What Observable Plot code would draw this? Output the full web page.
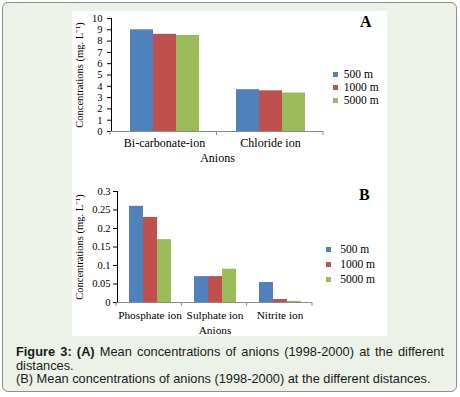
<!DOCTYPE html>
<html><head><meta charset="utf-8">
<script src="https://cdn.jsdelivr.net/npm/d3@7"></script>
<script src="https://cdn.jsdelivr.net/npm/@observablehq/plot@0.6"></script>
<style>
html,body{margin:0;padding:0;background:#fff;}
body{width:460px;height:397px;overflow:hidden;position:relative;font-family:"Liberation Serif",serif;}
#box{position:absolute;left:2px;top:2px;width:455px;height:390px;box-sizing:border-box;border:1.5px solid #8e8e8e;border-radius:6px;background:#edf2e8;}
#panel{position:absolute;left:72px;top:11px;width:315px;height:325px;background:#fff;}
.chart{position:absolute;left:72px;}
#chartA{top:11px;}
#chartB{top:172px;}
#chartA [aria-label^="fx-axis"] text{font-size:12px;}
#chartB [aria-label^="fx-axis"] text{font-size:11.3px;}
.tag{position:absolute;font-family:"Liberation Serif",serif;font-weight:bold;font-size:16px;color:#000;}
.leg{position:absolute;}
.leg, .leg *{font-family:"Liberation Serif",serif !important;font-size:11.5px !important;color:#000 !important;}
#legB > div > div{padding-bottom:3px !important;}
#legB svg{margin-right:0.8em !important;}
#caption{position:absolute;left:16px;top:345px;width:428px;font-family:"Liberation Sans",Arial,sans-serif;font-size:12.8px;line-height:13.7px;color:#1a1a1a;}
#caption .l1{text-align:justify;text-align-last:justify;white-space:nowrap;}
</style>
<style>
svg [aria-label="y-axis"] line, svg [aria-label="y-axis"] path, svg [aria-label="fx-axis"] path, svg [aria-label="y-axis tick"], svg [aria-label="fx-axis tick"]{stroke:#8a8a8a;}
</style>
</head><body>
<div id="box"></div>
<div id="panel"></div>
<div id="chartA" class="chart"></div>
<div id="chartB" class="chart"></div>
<div class="tag" style="left:360px;top:13px;">A</div>
<div class="tag" style="left:359px;top:186px;">B</div>
<div id="legA" class="leg" style="left:333px;top:68px;"></div>
<div id="legB" class="leg" style="left:326px;top:243px;"></div>
<div id="caption">
  <div class="l1"><b>Figure 3: (A)</b> <span>Mean concentrations of anions (1998-2000) at the different</span></div>
  <div>distances.</div>
  <div>(B) Mean concentrations of anions (1998-2000) at the different distances.</div>
</div>
<script>
const distances = ["500 m", "1000 m", "5000 m"];
const colors = ["#4f81bd", "#c0504d", "#9bbb59"];

const categoriesA = ["Bi-carbonate-ion", "Chloride ion"];
const valuesA500 = [9.0, 3.7];
const valuesA1000 = [8.6, 3.6];
const valuesA5000 = [8.5, 3.4];

const categoriesB = ["Phosphate ion", "Sulphate ion", "Nitrite ion"];
const valuesB500 = [0.26, 0.07, 0.054];
const valuesB1000 = [0.23, 0.07, 0.008];
const valuesB5000 = [0.17, 0.09, 0.003];

const yLabel = "Concentrations (mg. L\u207B\u00B9)";
const xLabel = "Anions";

function longForm(categories, series) {
  const rows = [];
  categories.forEach((c, i) => {
    series.forEach((vals, j) => rows.push({category: c, distance: distances[j], value: vals[i]}));
  });
  return rows;
}
const dataA = longForm(categoriesA, [valuesA500, valuesA1000, valuesA5000]);
const dataB = longForm(categoriesB, [valuesB500, valuesB1000, valuesB5000]);

function boundaryTicks(svg, chart, categories) {
  const fx = chart.scale("fx");
  const s = d3.scaleBand().domain(categories).range(fx.range).padding(0);
  const y = chart.scale("y");
  const y0 = y.range[0];
  const xs = categories.map(c => s(c)).concat([s.range()[1]]);
  const g = d3.select(svg).append("g");
  xs.forEach(x => g.append("line").attr("x1", x).attr("x2", x).attr("y1", y0).attr("y2", y0 + 4).attr("stroke", "#8a8a8a"));
}

function makeChart(data, categories, opts) {
  const chart = Plot.plot({
    width: 315, height: opts.height,
    marginLeft: opts.ml, marginRight: opts.mr, marginTop: opts.mt, marginBottom: opts.mb,
    style: {background: "transparent", fontFamily: "Liberation Serif", fontSize: "10.5px", color: "#000", overflow: "visible"},
    facet: {data, x: "category"},
    fx: {domain: categories, padding: 0, label: xLabel, labelAnchor: "center", labelOffset: opts.lo, tickSize: 0, tickPadding: opts.ftp, line: true, labelArrow: false},
    x: {domain: distances, paddingInner: 0, paddingOuter: 0.78, axis: null, label: null},
    y: {domain: opts.ydomain, ticks: opts.ticks, tickFormat: opts.fmt, tickSize: 4, tickPadding: opts.tp, label: yLabel, labelAnchor: "center", labelOffset: opts.ylo, line: true, labelArrow: false},
    color: {domain: distances, range: colors},
    marks: [
      Plot.barY(data, {x: "distance", y: "value", fill: "distance"}),
      Plot.ruleY([0], {stroke: "#8a8a8a"})
    ]
  });
  boundaryTicks(chart, chart, categories);
  return chart;
}

const chartA = makeChart(dataA, categoriesA, {height: 160, ml: 38, mr: 64, mt: 7, mb: 40, lo: 30, ftp: 7, ydomain: [0, 10], ticks: 10, fmt: d => String(d), tp: 5, ylo: 36});
document.getElementById("chartA").appendChild(chartA);

const chartB = makeChart(dataB, categoriesB, {height: 164, ml: 44, mr: 75, mt: 19, mb: 34, lo: 31, ftp: 8, ydomain: [0, 0.3], ticks: 6, fmt: d => String(+d.toFixed(2)), tp: 3, ylo: 42});
document.getElementById("chartB").appendChild(chartB);

const legendOpts = {color: {domain: distances, range: colors}, legend: "swatches", columns: 1, swatchSize: 5,
  style: {fontFamily: "Liberation Serif", fontSize: "11.5px", color: "#000"}};
document.getElementById("legA").appendChild(Plot.legend(legendOpts));
document.getElementById("legB").appendChild(Plot.legend(legendOpts));
</script>
</body></html>
